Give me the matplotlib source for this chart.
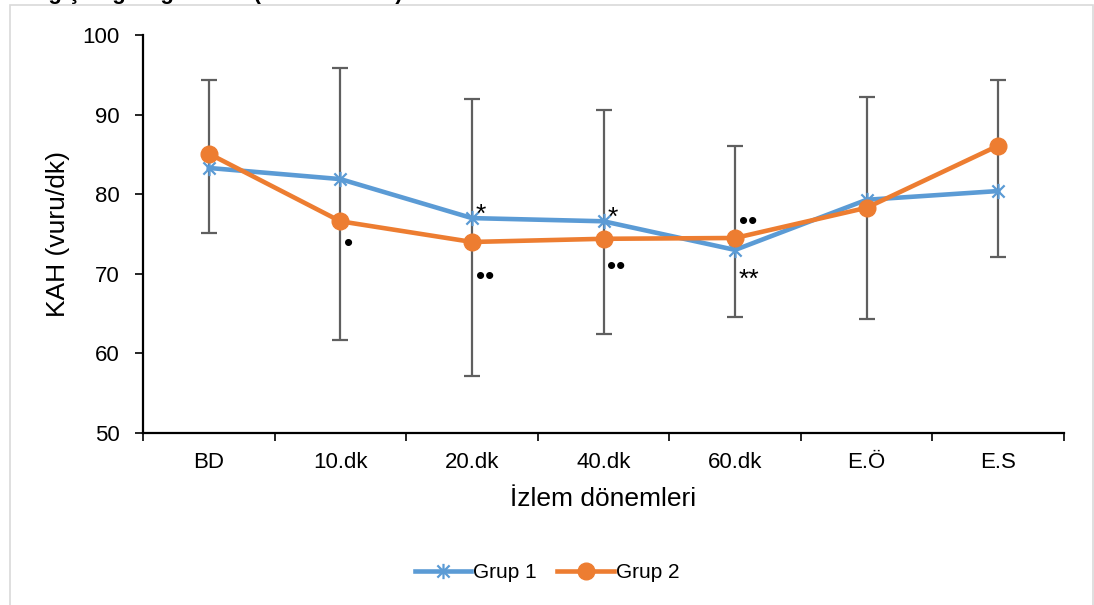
import numpy as np
import matplotlib
matplotlib.use("Agg")
import matplotlib.pyplot as plt
from matplotlib.path import Path
from matplotlib.patches import Rectangle

# ─── data ─────────────────────────────────────────────────────────────────────
periods = ["BD", "10.dk", "20.dk", "40.dk", "60.dk", "E.Ö", "E.S"]
grup1 = [83.3, 81.9, 77.0, 76.6, 73.0, 79.3, 80.4]
grup2 = [85.1, 76.6, 74.0, 74.4, 74.5, 78.3, 86.1]
err_low = [75.1, 61.7, 57.1, 62.5, 64.6, 64.3, 72.1]
err_high = [94.3, 95.8, 92.0, 90.6, 86.0, 92.2, 94.4]

# significance marks: (period index, value, text)
marks_idx = [2, 3, 1, 2, 3, 4, 4]
marks_val = [77.4, 77.0, 73.8, 69.6, 70.8, 76.5, 69.2]
marks_txt = ["*", "*", "•", "••", "••", "••", "**"]

BLUE = "#5b9bd5"
ORANGE = "#ed7d31"
GRAY = "#5f5f5f"

plt.rcParams["font.family"] = ["Liberation Sans", "DejaVu Sans"]

# excel-style star marker: x plus a vertical bar
star = Path([(-1, -1), (1, 1), (-1, 1), (1, -1), (0, -1.25), (0, 1.25)],
            [Path.MOVETO, Path.LINETO, Path.MOVETO, Path.LINETO,
             Path.MOVETO, Path.LINETO])

fig = plt.figure(figsize=(10.94, 6.05), dpi=100)
ax = fig.add_axes([0.1307, 0.2843, 0.8419, 0.6578])

fig.patches.append(Rectangle((10 / 1094, -0.01), 1083 / 1094, 1 - 5 / 605 + 0.01,
                             transform=fig.transFigure, fill=False,
                             edgecolor="#d9d9d9", linewidth=1.2))
# chart title, cut off at the top edge as in the source image
fig.text(20 / 1094, 1.0 + 1.5 / 605, "Değişim grafiği            (ortalama±SS)",
         fontsize=16, fontweight="bold", va="baseline", ha="left")

x = np.arange(len(periods))
lo = np.array(err_low)
hi = np.array(err_high)
ax.errorbar(x, lo, yerr=[np.zeros_like(lo), hi - lo], fmt="none",
            ecolor=GRAY, elinewidth=1.6, capsize=6, capthick=1.6, zorder=2)

ax.plot(x, grup1, color=BLUE, linewidth=3.3, marker=star, markersize=11,
        markeredgewidth=1.6, markeredgecolor=BLUE, zorder=4, label="Grup 1")
ax.plot(x, grup2, color=ORANGE, linewidth=3.3, marker="o", markersize=12,
        markeredgecolor=ORANGE, zorder=5, label="Grup 2")

for i, v, t in zip(marks_idx, marks_val, marks_txt):
    ax.text(x[i] + 0.03, v, t, fontsize=19, ha="left", va="center",
            color="black", zorder=6)

ax.set_xlim(-0.5, len(periods) - 0.5)
ax.set_ylim(50, 100)
ax.set_yticks([50, 60, 70, 80, 90, 100])
ax.set_xticks(np.arange(len(periods) + 1) - 0.5, minor=False)
ax.set_xticklabels([])
ax.set_xticks(x, minor=True)
ax.set_xticklabels(periods, minor=True, fontsize=16)
ax.tick_params(axis="x", which="major", length=6, width=1.2, direction="out")
ax.tick_params(axis="x", which="minor", length=0, pad=14)
ax.tick_params(axis="y", length=6, width=1.2, labelsize=16, pad=11)

for s in ["top", "right"]:
    ax.spines[s].set_visible(False)
for s in ["left", "bottom"]:
    ax.spines[s].set_linewidth(1.6)

ax.set_ylabel("KAH (vuru/dk)", fontsize=19, labelpad=9)
ax.set_xlabel("İzlem dönemleri", fontsize=19, labelpad=10)

leg = ax.legend(loc="center", bbox_to_anchor=(0.5, (605 - 573) / 605),
                bbox_transform=fig.transFigure, ncol=2, frameon=False,
                fontsize=15, handlelength=2.7, columnspacing=1.0,
                handletextpad=0.1)

fig.savefig("out.png", dpi=100)
